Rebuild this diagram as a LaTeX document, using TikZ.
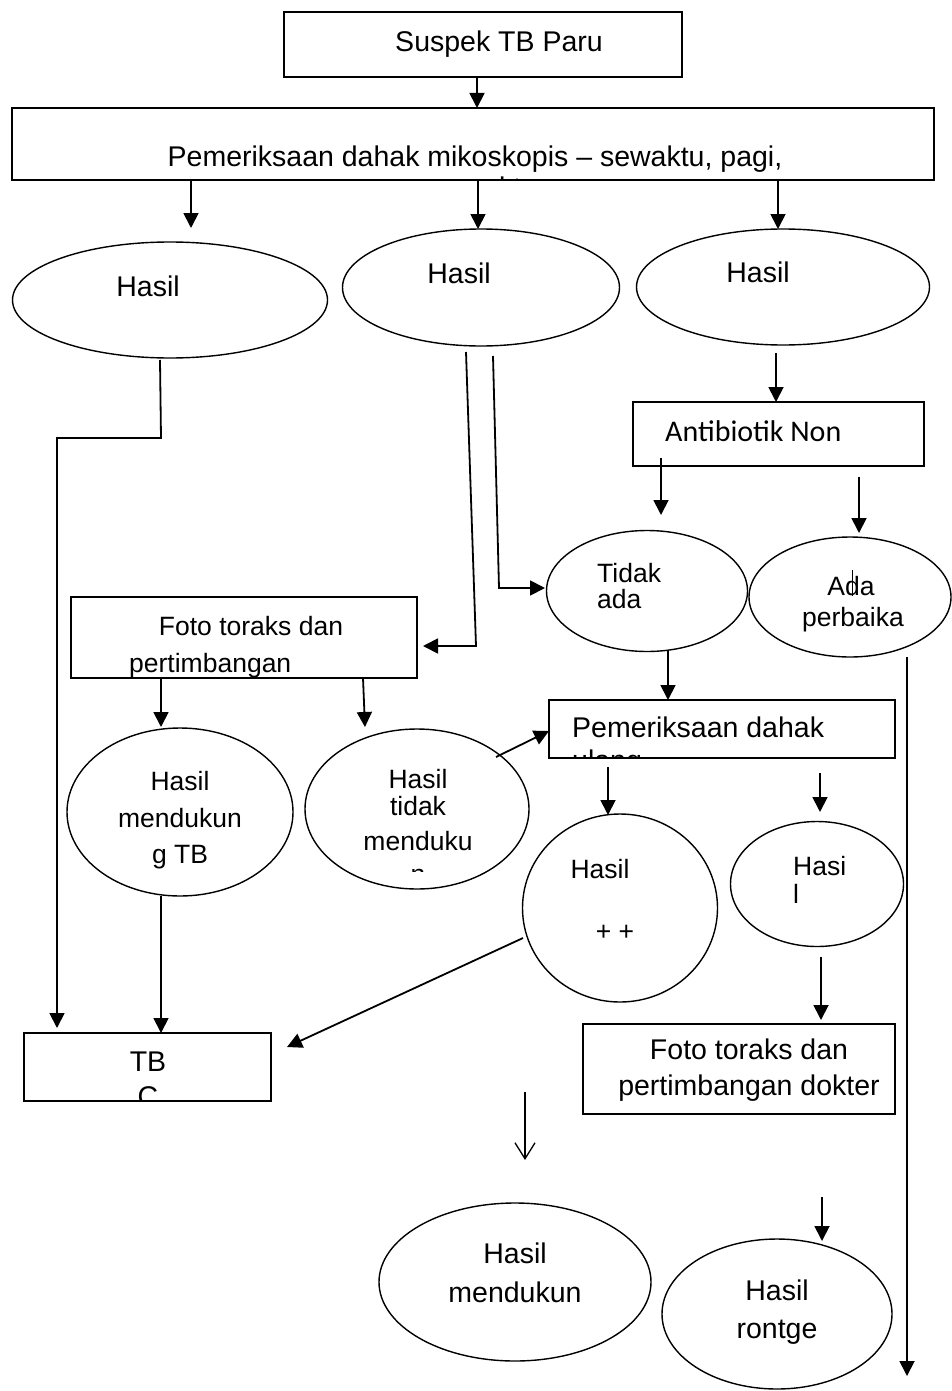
\documentclass[tikz,border=0pt]{standalone}
\usepackage{fontspec}
\setmainfont{Liberation Sans}
\newfontfamily\calib{Carlito}
\usetikzlibrary{arrows.meta,shapes.geometric}
\tikzset{
  boxshape/.style={draw, line width=1.8pt, rectangle, inner sep=0pt},
  ellshape/.style={draw, line width=1.4pt, ellipse, inner sep=0pt},
  tb/.style={anchor=base, inner sep=0pt, font=\fontsize{28.5}{33}\selectfont},
  ts/.style={anchor=base, inner sep=0pt, font=\fontsize{26.5}{31}\selectfont},
  tbl/.style={tb, anchor=base west},
  tsl/.style={ts, anchor=base west},
  arr/.style={line width=1.8pt, -{Triangle[length=15pt,width=15pt]}},
  ln/.style={line width=1.8pt},
  openarr/.style={line width=1.3pt, -{Straight Barb[length=16pt,width=20pt,line width=1.3pt]}}
}
\begin{document}
\begin{tikzpicture}[x=1pt,y=-1pt]
\useasboundingbox (0,0) rectangle (951,1391);
\fill[white] (0,0) rectangle (951,1391);

% ---------- boxes ----------
\node[boxshape, minimum width=398pt, minimum height=65pt] (b1) at (483,44.5) {};
\node[boxshape, minimum width=922pt, minimum height=72pt] (b2) at (473,144) {};
\node[boxshape, minimum width=291pt, minimum height=64pt] (anti) at (778.5,434) {};
\node[boxshape, minimum width=346pt, minimum height=81pt] (fotoL) at (244,637.5) {};
\node[boxshape, minimum width=346pt, minimum height=58pt] (ulang) at (722,729) {};
\node[boxshape, minimum width=247pt, minimum height=68pt] (tbc) at (147.5,1067) {};
\node[boxshape, minimum width=312pt, minimum height=90pt] (fotoR) at (739,1069) {};

% ---------- ellipses ----------
\node[ellshape, minimum width=315pt, minimum height=116pt] (e1) at (170,300) {};
\node[ellshape, minimum width=277pt, minimum height=117pt] (e2) at (481,287.5) {};
\node[ellshape, minimum width=293pt, minimum height=116pt] (e3) at (783,287) {};
\node[ellshape, minimum width=201pt, minimum height=121pt] (tidak) at (647,591) {};
\node[ellshape, minimum width=202pt, minimum height=120pt] (ada) at (850,597) {};
\node[ellshape, minimum width=226pt, minimum height=168pt] (mend) at (180,812) {};
\node[ellshape, minimum width=224pt, minimum height=160pt] (tmend) at (417,809) {};
\node[ellshape, minimum width=195pt, minimum height=188pt] (pp) at (620,908) {};
\node[ellshape, minimum width=173pt, minimum height=125pt] (hasl) at (817,884) {};
\node[ellshape, minimum width=272pt, minimum height=158pt] (mendb) at (515,1282) {};
\node[ellshape, minimum width=230pt, minimum height=150pt] (ront) at (777,1314) {};

% ---------- texts ----------
\node[tb] (t1) at (499,52) {Suspek TB Paru};
\node[tb] (t2) at (475,167) {Pemeriksaan dahak mikoskopis -- sewaktu, pagi,};
\begin{scope}
  \clip (12,108) rectangle (934,180);
  \node[tb] (t2b) at (485,197) {sewaktu};
\end{scope}
\node[tb] (te1) at (148,296) {Hasil};
\node[tb] (te2) at (459,283) {Hasil};
\node[tb] (te3) at (758,282) {Hasil};
\node[anchor=base west, inner sep=0pt, font=\calib\fontsize{30}{34}\selectfont] (tanti) at (665,441) {Antibiotik Non};
\node[tsl] (ttid1) at (597,582) {Tidak};
\node[tsl] (ttid2) at (597,608) {ada};
\node[ts] (tada1) at (851,595) {Ada};
\draw[line width=1pt] (852,570) -- (852,596);
\node[ts] (tada2) at (853,626) {perbaika};
\node[ts] (tfl1) at (251,635) {Foto toraks dan};
\node[tsl] (tfl2) at (129,672) {pertimbangan};
\node[tbl] (tul1) at (572,737) {Pemeriksaan dahak};
\begin{scope}
  \clip (549,700) rectangle (895,757);
  \node[tbl] (tul2) at (572,770) {ulang};
\end{scope}
\node[ts] (tm1) at (180,790) {Hasil};
\node[ts] (tm2) at (180,827) {mendukun};
\node[ts] (tm3) at (180,863) {g TB};
\node[ts] (ttm1) at (418,788) {Hasil};
\node[ts] (ttm2) at (418,815) {tidak};
\node[ts] (ttm3) at (418,850) {menduku};
\begin{scope}
  \clip (300,850) rectangle (540,871);
  \node[ts] (ttm4) at (418,883) {n};
\end{scope}
\node[ts] (tpp1) at (600,878) {Hasil};
\node[ts] (tpp2) at (615,940) {+ +};
\node[tsl] (thl1) at (793,875) {Hasi};
\node[tsl] (thl2) at (793,903) {l};
\node[tb] (ttb1) at (148,1071) {TB};
\begin{scope}
  \clip (24,1033) rectangle (271,1100);
  \node[tb] (ttb2) at (148,1106) {C};
\end{scope}
\node[tb] (tfr1) at (749,1059) {Foto toraks dan};
\node[tb] (tfr2) at (749,1095) {pertimbangan dokter};
\node[tb] (tmb1) at (515,1263) {Hasil};
\node[tb] (tmb2) at (515,1302) {mendukun};
\node[tb] (tr1) at (777,1300) {Hasil};
\node[tb] (tr2) at (777,1338) {rontge};

% ---------- connector end points ----------
\coordinate (p1) at (477,77);
\coordinate (p2) at (477,108);
\coordinate (p3a) at (191,180);  \coordinate (p3b) at (191,228);
\coordinate (p4a) at (478,180);  \coordinate (p4b) at (478,229);
\coordinate (p5a) at (778,180);  \coordinate (p5b) at (778,229);
\coordinate (q1) at (160,360);   \coordinate (q2) at (161,438);
\coordinate (q3) at (57,438);    \coordinate (q4) at (57,1028);
\coordinate (r1) at (466,352);   \coordinate (r2) at (476,646);
\coordinate (r3) at (423,646);
\coordinate (s1) at (493,356);   \coordinate (s2) at (499,588);
\coordinate (s3) at (545,588);
\coordinate (u1) at (776,353);   \coordinate (u2) at (776,402);
\coordinate (v1) at (661,458);   \coordinate (v2) at (661,515);
\coordinate (w1) at (859,477);   \coordinate (w2) at (859,533);
\coordinate (x1) at (668,650);   \coordinate (x2) at (668,700);
\coordinate (y1) at (496,757);   \coordinate (y2) at (549,731);
\coordinate (z1) at (608,767);   \coordinate (z2) at (608,815);
\coordinate (k1) at (820,773);   \coordinate (k2) at (820,812);
\coordinate (m1) at (523,938);   \coordinate (m2) at (287,1047);
\coordinate (n1) at (821,957);   \coordinate (n2) at (821,1020);
\coordinate (f1) at (161,678);   \coordinate (f2) at (161,727);
\coordinate (g1) at (363,678);   \coordinate (g2) at (365,727);
\coordinate (h1) at (161,896);   \coordinate (h2) at (161,1033);
\coordinate (o1) at (525,1092);  \coordinate (o2) at (525,1160);
\coordinate (j1) at (822,1197);  \coordinate (j2) at (822,1241);
\coordinate (l1) at (907,657);   \coordinate (l2) at (907,1376);

% ---------- connectors ----------
\draw[arr] (p1) -- (p2);
\draw[arr] (p3a) -- (p3b);
\draw[arr] (p4a) -- (p4b);
\draw[arr] (p5a) -- (p5b);
\draw[ln, -{Triangle[length=15pt,width=15pt]}] (q1) -- (q2) -- (q3) -- (q4);
\draw[arr] (r1) -- (r2) -- (r3);
\draw[arr] (s1) -- (s2) -- (s3);
\draw[arr] (u1) -- (u2);
\draw[arr] (v1) -- (v2);
\draw[arr] (w1) -- (w2);
\draw[arr] (x1) -- (x2);
\draw[arr] (y1) -- (y2);
\draw[arr] (z1) -- (z2);
\draw[arr] (k1) -- (k2);
\draw[arr] (m1) -- (m2);
\draw[arr] (n1) -- (n2);
\draw[arr] (f1) -- (f2);
\draw[arr] (g1) -- (g2);
\draw[arr] (h1) -- (h2);
\draw[openarr] (o1) -- (o2);
\draw[arr] (j1) -- (j2);
\draw[arr] (l1) -- (l2);
\end{tikzpicture}
\end{document}
